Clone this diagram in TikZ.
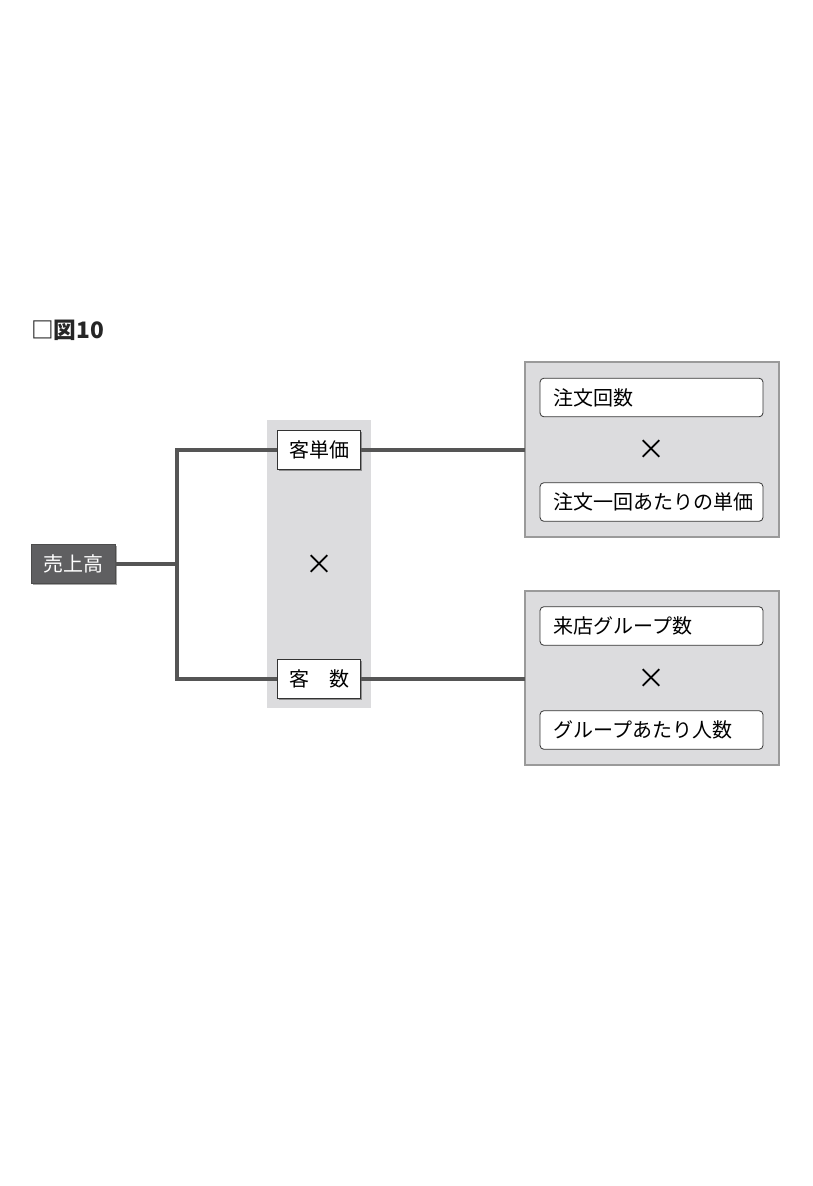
\documentclass[tikz,border=0pt]{standalone}
\usepackage{fontspec}
\setmainfont{Noto Sans CJK JP}
\usetikzlibrary{shadows}
\definecolor{linegray}{HTML}{555555}
\definecolor{panelgray}{HTML}{DCDCDE}
\definecolor{darkbox}{HTML}{5F5F61}
\definecolor{panelborder}{HTML}{9A9A9A}
\tikzset{
  shd/.style={drop shadow={shadow xshift=1.2pt,shadow yshift=-1.2pt,opacity=0.35,fill=black}},
  darknode/.style={draw=black!70,line width=0.6pt,fill=darkbox,text=white,minimum width=63pt,minimum height=29.25pt,inner sep=0pt,font=\fontsize{15}{17}\selectfont,shd},
  midbox/.style={draw=black!80,line width=0.6pt,fill=white,minimum width=62.25pt,minimum height=29.25pt,inner sep=0pt,font=\fontsize{15}{17}\selectfont,shd},
  rbox/.style={draw=black!80,line width=0.6pt,fill=white,rounded corners=3pt,minimum width=167.25pt,minimum height=29pt,inner sep=0pt},
  rtext/.style={anchor=west,inner sep=0pt,font=\fontsize{15}{17}\selectfont},
  panel/.style={draw=panelborder,line width=1.5pt,fill=panelgray},
  conn/.style={draw=linegray,line width=3pt},
  times/.style={inner sep=0pt,font=\fontsize{21}{23}\selectfont}
}
\begin{document}
\begin{tikzpicture}[x=0.75pt,y=-0.75pt]
\useasboundingbox (0,0) rectangle (813,1186);
% title
\node[anchor=west,inner sep=0pt,font=\fontsize{17}{19}\selectfont\bfseries,text=black!85] (title) at (31,330) {□図10};
% middle panel
\fill[panelgray] (267,420) rectangle (371,708);
% right panels
\draw[panel] (525,362) rectangle (779,537);
\draw[panel] (525,591) rectangle (779,765);
% nodes
\node[darknode] (uri) at (73,563.5) {売上高};
\node[midbox] (tanka) at (319,449.5) {客単価};
\node[midbox] (kyaku) at (319,678.5) {客\hspace{1em}数};
\node[times] (x1) at (319,565) {×};
\node[rbox] (r1) at (651.5,397.5) {};
\node[rtext] (t1) at (553,397.5) {注文回数};
\node[times] (x2) at (651,450) {×};
\node[rbox] (r2) at (651.5,502) {};
\node[rtext] (t2) at (553,502) {注文一回あたりの単価};
\node[rbox] (r3) at (651.5,626) {};
\node[rtext] (t3) at (553,626) {来店グループ数};
\node[times] (x3) at (651,679) {×};
\node[rbox] (r4) at (651.5,730) {};
\node[rtext] (t4) at (553,730) {グループあたり人数};
% connectors
\coordinate (j) at (177,563.5);
\coordinate (pr1) at (525,449.5);
\coordinate (pr2) at (525,678.5);
\draw[conn] (uri.east) -- (j);
\draw[conn] (tanka.west) -| (j) |- (kyaku.west);
\draw[conn] (tanka.east) -- (pr1);
\draw[conn] (kyaku.east) -- (pr2);
\end{tikzpicture}
\end{document}
